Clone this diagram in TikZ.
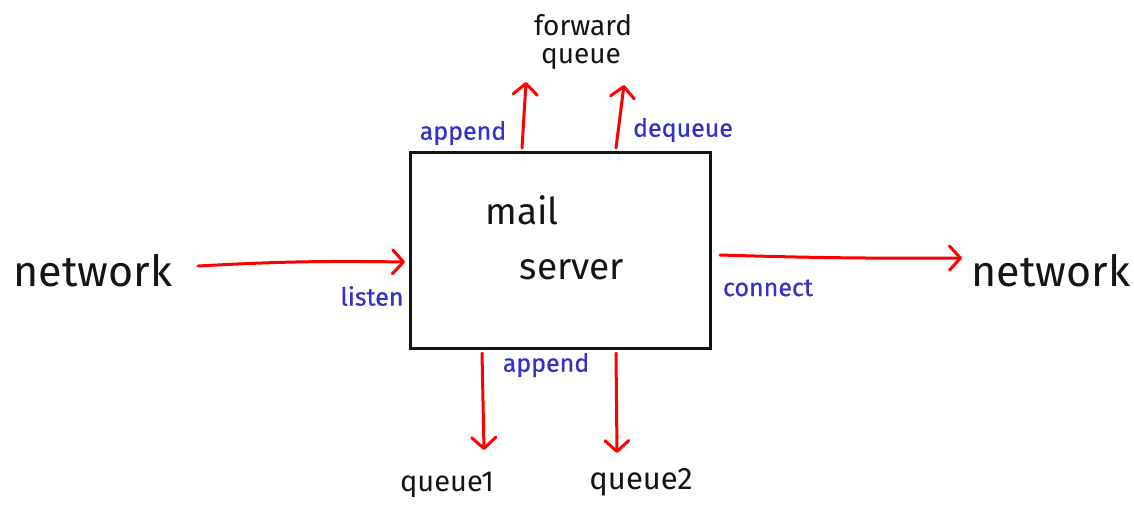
\documentclass[tikz,border=0pt]{standalone}
\usepackage{fontspec}
\setmainfont{Fira Sans}
\usetikzlibrary{arrows.meta}
\definecolor{ink}{RGB}{20,20,20}
\definecolor{pen}{RGB}{255,0,0}
\definecolor{note}{RGB}{50,50,200}
\tikzset{
  x=1pt, y=-1pt,
  flow/.style={draw=pen, line width=3pt, line cap=round,
    -{Straight Barb[length=11pt, width=24pt, line width=3pt, round]}},
  bigword/.style={text=ink, font=\fontsize{43}{45}\selectfont, inner sep=0pt},
  word/.style={text=ink, font=\fontsize{29}{31}\selectfont, inner sep=0pt},
  boxword/.style={text=ink, font=\fontsize{37}{39}\selectfont, inner sep=0pt},
  tag/.style={text=note, font=\fontsize{25}{27}\selectfont\addfontfeatures{FakeBold=0.6}, inner sep=0pt},
}
\begin{document}
\begin{tikzpicture}
\useasboundingbox (0,0) rectangle (1134,523);
% the server box
\draw[ink, line width=3pt] (410,152) rectangle (710,348);
\node[boxword] (mail) at (522,210) {mail};
\node[boxword] (server) at (572,270) {server};

% outside endpoints
\node[bigword] (netin) at (93,271) {network};
\node[bigword] (netout) at (1051,271) {network};
\node[word, anchor=base, font=\fontsize{28}{30}\selectfont] (fwd) at (583,35) {forward};
\node[word, anchor=base, font=\fontsize{28}{30}\selectfont] (fwdq) at (581,63) {queue};
\node[word] (q1) at (447,485) {queue1};
\node[word, font=\fontsize{31}{33}\selectfont] (q2) at (641,482) {queue2};

% arrow ends on the box and free ends
\coordinate (inE) at (405,262);
\coordinate (inS) at (198,266);
\coordinate (outS) at (720,255);
\coordinate (outE) at (962,258);
\coordinate (upAs) at (522,148);
\coordinate (upAe) at (526,82);
\coordinate (upBs) at (616,148);
\coordinate (upBe) at (624,85);
\coordinate (dnAs) at (482,353);
\coordinate (dnAe) at (484,450);
\coordinate (dnBs) at (616,353);
\coordinate (dnBe) at (617,453);

\draw[flow] (inS) to[bend left=2] (inE);
\draw[flow] (outS) to[bend left=-1] (outE);
\draw[flow] (upAs) -- (upAe);
\draw[flow] (upBs) -- (upBe);
\draw[flow] (dnAs) -- (dnAe);
\draw[flow] (dnBs) -- (dnBe);

% operation labels
\node[tag] (lappend) at (463,133) {append};
\node[tag] (ldeq) at (683,130) {dequeue};
\node[tag] (llisten) at (372,296) {listen};
\node[tag] (lconnect) at (768,288) {connect};
\node[tag] (lappend2) at (546,365) {append};
\end{tikzpicture}
\end{document}
